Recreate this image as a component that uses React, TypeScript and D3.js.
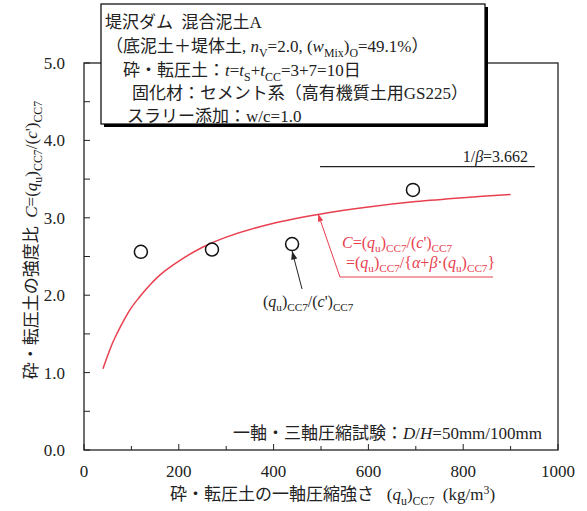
import React from 'react';
import * as d3 from 'd3';

// measured points (qu)CC7 [kg/m3] vs strength ratio C
const qu = [120, 270, 439, 694];
const ratio = [2.56, 2.59, 2.66, 3.36];

// fitted curve C = qu / (α + β·qu)
const curveQu = [40, 50, 60, 70, 80, 90, 100, 115, 130, 145, 160, 200, 250, 300, 400, 500, 600, 700, 800, 900];
const curveC = [1.05, 1.22, 1.38, 1.51, 1.63, 1.74, 1.84, 1.96, 2.07, 2.17, 2.26, 2.44, 2.62, 2.75, 2.93, 3.05, 3.14, 3.21, 3.26, 3.30];

const asymptote = 3.662;
const xTicks = [0, 200, 400, 600, 800, 1000];
const yTicks = [0, 1, 2, 3, 4, 5];

const W = 587;
const H = 511;
const FONT = "'Liberation Serif', 'Times New Roman', 'Noto Sans CJK JP', serif";
const RED = '#e8404f';
const INK = '#222';

type Seg = { t: string; i?: boolean; sub?: boolean; sup?: boolean };

const Rich = ({ segs, fs }: { segs: Seg[]; fs: number }) => {
  let shift = 0;
  return (
    <>
      {segs.map((s, k) => {
        const target = s.sub ? fs * 0.28 : s.sup ? -fs * 0.38 : 0;
        const dy = target - shift;
        shift = target;
        return (
          <tspan
            key={k}
            dy={dy || undefined}
            fontStyle={s.i ? 'italic' : undefined}
            fontSize={s.sub || s.sup ? fs * 0.7 : undefined}
          >
            {s.t}
          </tspan>
        );
      })}
    </>
  );
};

const App = () => {
  const x = d3.scaleLinear().domain([0, 1000]).range([84, 558]);
  const y = d3.scaleLinear().domain([0, 5]).range([450, 63]);

  const line = d3
    .line<number>()
    .x((d) => x(d))
    .y((d, i) => y(curveC[i]))
    .curve(d3.curveCatmullRom.alpha(0.5));

  const minorX = x.ticks(10);
  const minorY = d3.range(0, 5.01, 0.5);

  // red annotation: tip on curve, elbow, end
  const tip = [494, 3.05];
  const elbow = [540, 2.235];
  const tail = [863, 2.235];

  // black annotation arrow
  const bTip = [439, 2.57];
  const bStart = [460, 2.08];

  const arrowHead = (x0: number, y0: number, x1: number, y1: number, size: number) => {
    const a = Math.atan2(y1 - y0, x1 - x0);
    const p1 = [x1 - size * Math.cos(a - 0.35), y1 - size * Math.sin(a - 0.35)];
    const p2 = [x1 - size * Math.cos(a + 0.35), y1 - size * Math.sin(a + 0.35)];
    return `M${x1},${y1}L${p1[0]},${p1[1]}L${p2[0]},${p2[1]}Z`;
  };

  return (
    <svg
      width={W}
      height={H}
      style={{ position: 'absolute', left: 0, top: 0 }}
      fontFamily={FONT}
    >
      <rect width={W} height={H} fill="#fff" />

      {/* frame */}
      <rect x={84} y={63} width={474} height={387} fill="none" stroke={INK} strokeWidth={1.3} />
      {minorX.map((t) => (
        <line key={'xt' + t} x1={x(t)} x2={x(t)} y1={450} y2={t % 200 === 0 ? 444 : 446} stroke={INK} strokeWidth={1} />
      ))}
      {minorY.map((t) => (
        <line key={'yt' + t} x1={84} x2={90} y1={y(t)} y2={y(t)} stroke={INK} strokeWidth={1} />
      ))}

      {xTicks.map((t) => (
        <text key={'xl' + t} x={x(t)} y={477} textAnchor="middle" fontSize={17} fill={INK}>
          {t}
        </text>
      ))}
      {yTicks.map((t) => (
        <text key={'yl' + t} x={65} y={y(t) + 6} textAnchor="end" fontSize={17} fill={INK}>
          {t.toFixed(1)}
        </text>
      ))}

      {/* axis titles */}
      <text x={170} y={500} fontSize={17} fill={INK}>
        <Rich
          fs={17}
          segs={[
            { t: '砕・転圧土の一軸圧縮強さ' },
            { t: '\u00a0\u00a0\u00a0(' },
            { t: 'q', i: true },
            { t: 'u', sub: true },
            { t: ')' },
            { t: 'CC7', sub: true },
            { t: '\u00a0\u00a0(kg/m' },
            { t: '3', sup: true },
            { t: ')' },
          ]}
        />
      </text>
      <text transform="translate(37,240) rotate(-90)" textAnchor="middle" fontSize={17} fill={INK}>
        <Rich
          fs={17}
          segs={[
            { t: '砕・転圧土の強度比\u00a0\u00a0' },
            { t: 'C', i: true },
            { t: '=(' },
            { t: 'q', i: true },
            { t: 'u', sub: true },
            { t: ')' },
            { t: 'CC7', sub: true },
            { t: '/(' },
            { t: 'c', i: true },
            { t: "')" },
            { t: 'CC7', sub: true },
          ]}
        />
      </text>

      {/* asymptote */}
      <line x1={x(498)} x2={x(951)} y1={y(asymptote)} y2={y(asymptote)} stroke={INK} strokeWidth={1.2} />
      <text x={x(937)} y={y(asymptote) - 5} textAnchor="end" fontSize={16} fill={INK}>
        <Rich fs={16} segs={[{ t: '1/' }, { t: 'β', i: true }, { t: '=' + asymptote.toFixed(3) }]} />
      </text>

      {/* fitted curve */}
      <path d={line(curveQu) || ''} fill="none" stroke={RED} strokeWidth={1.5} />

      {/* points */}
      {qu.map((q, i) => (
        <circle key={'p' + i} cx={x(q)} cy={y(ratio[i])} r={6.5} fill="none" stroke="#111" strokeWidth={1.5} />
      ))}

      {/* red annotation */}
      <path
        d={`M${x(tail[0])},${y(tail[1])}L${x(elbow[0])},${y(elbow[1])}L${x(tip[0])},${y(tip[1])}`}
        fill="none"
        stroke={RED}
        strokeWidth={1}
      />
      <path d={arrowHead(x(elbow[0]), y(elbow[1]), x(tip[0]), y(tip[1]), 8)} fill={RED} />
      <text x={342} y={248} fontSize={16} fill={RED}>
        <Rich
          fs={16}
          segs={[
            { t: 'C', i: true },
            { t: '=(' },
            { t: 'q', i: true },
            { t: 'u', sub: true },
            { t: ')' },
            { t: 'CC7', sub: true },
            { t: '/(' },
            { t: 'c', i: true },
            { t: "')" },
            { t: 'CC7', sub: true },
          ]}
        />
      </text>
      <text x={346} y={268} fontSize={16} fill={RED}>
        <Rich
          fs={16}
          segs={[
            { t: '=(' },
            { t: 'q', i: true },
            { t: 'u', sub: true },
            { t: ')' },
            { t: 'CC7', sub: true },
            { t: '/{' },
            { t: 'α', i: true },
            { t: '+' },
            { t: 'β', i: true },
            { t: '·(' },
            { t: 'q', i: true },
            { t: 'u', sub: true },
            { t: ')' },
            { t: 'CC7', sub: true },
            { t: '}' },
          ]}
        />
      </text>

      {/* black annotation */}
      <line x1={x(bStart[0])} y1={y(bStart[1])} x2={x(bTip[0])} y2={y(bTip[1])} stroke={INK} strokeWidth={1} />
      <path d={arrowHead(x(bStart[0]), y(bStart[1]), x(bTip[0]), y(bTip[1]), 9)} fill={INK} />
      <text x={263} y={307} fontSize={16} fill={INK}>
        <Rich
          fs={16}
          segs={[
            { t: '(' },
            { t: 'q', i: true },
            { t: 'u', sub: true },
            { t: ')' },
            { t: 'CC7', sub: true },
            { t: '/(' },
            { t: 'c', i: true },
            { t: "')" },
            { t: 'CC7', sub: true },
          ]}
        />
      </text>

      {/* test note */}
      <text x={542} y={439} textAnchor="end" fontSize={17} fill={INK}>
        <Rich
          fs={17}
          segs={[
            { t: '一軸・三軸圧縮試験：' },
            { t: 'D', i: true },
            { t: '/' },
            { t: 'H', i: true },
            { t: '=50mm/100mm' },
          ]}
        />
      </text>

      {/* info box */}
      <rect x={104} y={7} width={384} height={120} fill="#000" />
      <rect x={101} y={4} width={384} height={120} fill="#fff" stroke="#000" strokeWidth={1.2} />
      <g fontSize={17} fill={INK}>
        <text x={105} y={28}>
          <Rich fs={17} segs={[{ t: '堤沢ダム\u00a0\u00a0混合泥土A' }]} />
        </text>
        <text x={106} y={52}>
          <Rich
            fs={17}
            segs={[
              { t: '（底泥土＋堤体土, ' },
              { t: 'n', i: true },
              { t: 'V', sub: true },
              { t: '=2.0, (' },
              { t: 'w', i: true },
              { t: 'Mix', sub: true },
              { t: ')' },
              { t: 'O', sub: true },
              { t: '=49.1%）' },
            ]}
          />
        </text>
        <text x={123} y={76}>
          <Rich
            fs={17}
            segs={[
              { t: '砕・転圧土：' },
              { t: 't', i: true },
              { t: '=' },
              { t: 't', i: true },
              { t: 'S', sub: true },
              { t: '+' },
              { t: 't', i: true },
              { t: 'CC', sub: true },
              { t: '=3+7=10日' },
            ]}
          />
        </text>
        <text x={132} y={99}>
          <Rich fs={17} segs={[{ t: '固化材：セメント系（高有機質土用GS225）' }]} />
        </text>
        <text x={127} y={122}>
          <Rich fs={17} segs={[{ t: 'スラリー添加：w/c=1.0' }]} />
        </text>
      </g>
    </svg>
  );
};

export default App;
